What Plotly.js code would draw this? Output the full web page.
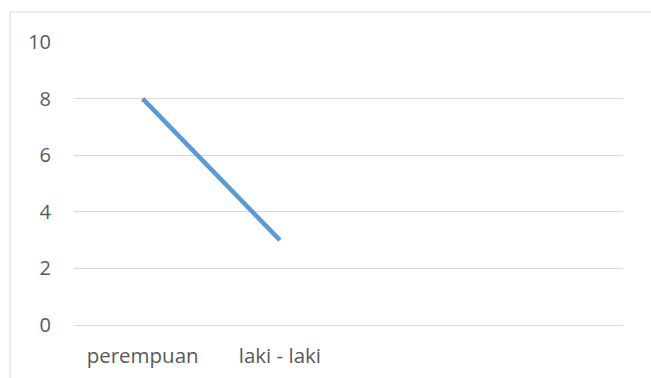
<!DOCTYPE html>
<html><head><meta charset="utf-8">
<script src="https://cdn.plot.ly/plotly-3.0.1.min.js"></script>
<style>html,body{margin:0;padding:0;background:#fff}#chart{width:651px;height:378px}</style>
</head><body><div id="chart"></div>
<script>
const categories = ["perempuan", "laki - laki"];
const values = [8, 3];
const slotCount = 4;
const yTicks = [0, 2, 4, 6, 8, 10];

const xIdx = categories.map((_, i) => i);
const trace = {
  x: xIdx, y: values, type: 'scatter', mode: 'lines',
  line: {color: '#5B9BD5', width: 4.5, shape: 'linear'},
  hoverinfo: 'skip'
};
const font = {family: 'Open Sans, Liberation Sans, sans-serif', size: 20, color: '#595959'};
const xfont = {family: 'Open Sans, Liberation Sans, sans-serif', size: 20.5, color: '#595959'};
const layout = {
  width: 651, height: 378,
  margin: {l: 74, r: 28, t: 42, b: 53},
  paper_bgcolor: '#fff', plot_bgcolor: '#fff',
  showlegend: false,
  font: font,
  xaxis: {
    range: [-0.5, slotCount - 0.5], tickvals: xIdx, ticktext: categories,
    showgrid: false, zeroline: false, showline: false, ticks: '',
    ticklabelstandoff: 16, tickfont: xfont, fixedrange: true
  },
  yaxis: {
    range: [0, 10], tickvals: yTicks, showgrid: true, gridcolor: '#d9d9d9', gridwidth: 1,
    zeroline: true, zerolinecolor: '#d9d9d9', zerolinewidth: 1, showline: false, ticks: '',
    ticklabelstandoff: 22, tickfont: font, fixedrange: true
  },
  shapes: [{type: 'rect', xref: 'paper', yref: 'paper',
    x0: -64/549, x1: 28/549 + 1 + 2/549, y0: -60/283, y1: 1 + 30/283,
    line: {color: '#d9d9d9', width: 1}, fillcolor: 'rgba(0,0,0,0)', layer: 'below'}]
};
Plotly.newPlot('chart', [trace], layout, {displayModeBar: false, staticPlot: true});
</script></body></html>
